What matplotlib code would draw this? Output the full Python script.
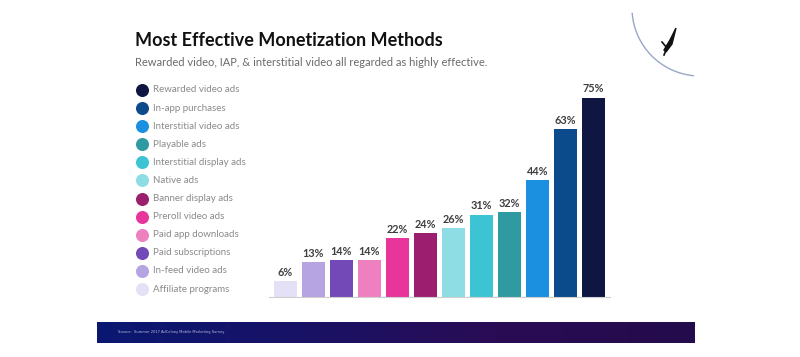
import numpy as np
import matplotlib.pyplot as plt
from matplotlib.colors import LinearSegmentedColormap
from matplotlib.patches import Arc, Polygon

# Data, left to right as the bars appear
methods = ['Affiliate programs', 'In-feed video ads', 'Paid subscriptions',
           'Paid app downloads', 'Preroll video ads', 'Banner display ads',
           'Native ads', 'Interstitial display ads', 'Playable ads',
           'Interstitial video ads', 'In-app purchases', 'Rewarded video ads']
shares = [6, 13, 14, 14, 22, 24, 26, 31, 32, 44, 63, 75]
colors = ['#e4e0f6', '#b5a3e2', '#7249b6', '#ee80c0', '#e8359b', '#9c1f6f',
          '#8edde4', '#3dc4d4', '#2f9aa1', '#1b8fe0', '#0b4a8b', '#0e1641']

title = 'Most Effective Monetization Methods'
subtitle = 'Rewarded video, IAP, & interstitial video all regarded as highly effective.'
source = 'Source:  Summer 2017 AdColony Mobile Marketing Survey'

W, H = 800, 357
fig = plt.figure(figsize=(W / 100, H / 100), dpi=100)
fig.patch.set_facecolor('white')

# overlay axes in pixel coordinates for decoration
bg = fig.add_axes([0, 0, 1, 1])
bg.set_xlim(0, W)
bg.set_ylim(H, 0)
bg.axis('off')

bg.text(135, 40, title, fontsize=13, fontweight='bold', family='Lato',
        color='#111111', va='center')
bg.text(135, 62, subtitle, fontsize=8, family='Lato', color='#6a6a6a',
        va='center')

# legend, top entry is the tallest bar
legend_y = np.linspace(90, 289, len(methods))
for y, name, c in zip(legend_y, methods[::-1], colors[::-1]):
    bg.scatter([142], [y], s=70, color=c, zorder=3)
    bg.text(153, y, name, fontsize=7, family='Lato', color='#8a8a8a',
            va='center')

# footer band with gradient
grad = LinearSegmentedColormap.from_list('band', ['#0a1872', '#181266', '#2a0c55', '#240b4c'])
bg.imshow(np.linspace(0, 1, 256)[None, :], cmap=grad, aspect='auto',
          extent=[97, 695, 343, 322], zorder=1)
bg.text(118, 332.5, source, fontsize=2.6, color='#b8bcd8', va='center', zorder=2)

# corner arc and rocket mark
bg.add_patch(Arc((700, 8), 136, 136, theta1=95, theta2=176, color='#9aa6c8',
                 lw=1.0))
bg.add_patch(Polygon([[676, 28], [670, 40], [664, 50], [666, 52], [672, 44]],
                     closed=True, color='#111111'))
bg.plot([662, 667, 664], [42, 48, 55], color='#111111', lw=1.2)

# bar axes
ax = fig.add_axes([268.5 / W, (H - 297) / H, 341.6 / W, 217 / H])
x = np.arange(len(shares))
ax.bar(x, shares, width=0.82, color=colors, zorder=2)
for xi, v in zip(x, shares):
    ax.text(xi, v + 1.2, f'{v}%', ha='center', va='bottom', fontsize=7.8,
            fontweight='bold', family='Lato', color='#3e3e3e')
ax.set_xlim(-0.6, len(shares) - 0.4)
ax.set_ylim(0, 217 / 2.66)
ax.set_xticks([])
ax.set_yticks([])
for side in ['top', 'right', 'left']:
    ax.spines[side].set_visible(False)
ax.spines['bottom'].set_color('#cfcfcf')
ax.spines['bottom'].set_linewidth(0.8)
ax.patch.set_alpha(0)

plt.savefig('out.png', dpi=100)
